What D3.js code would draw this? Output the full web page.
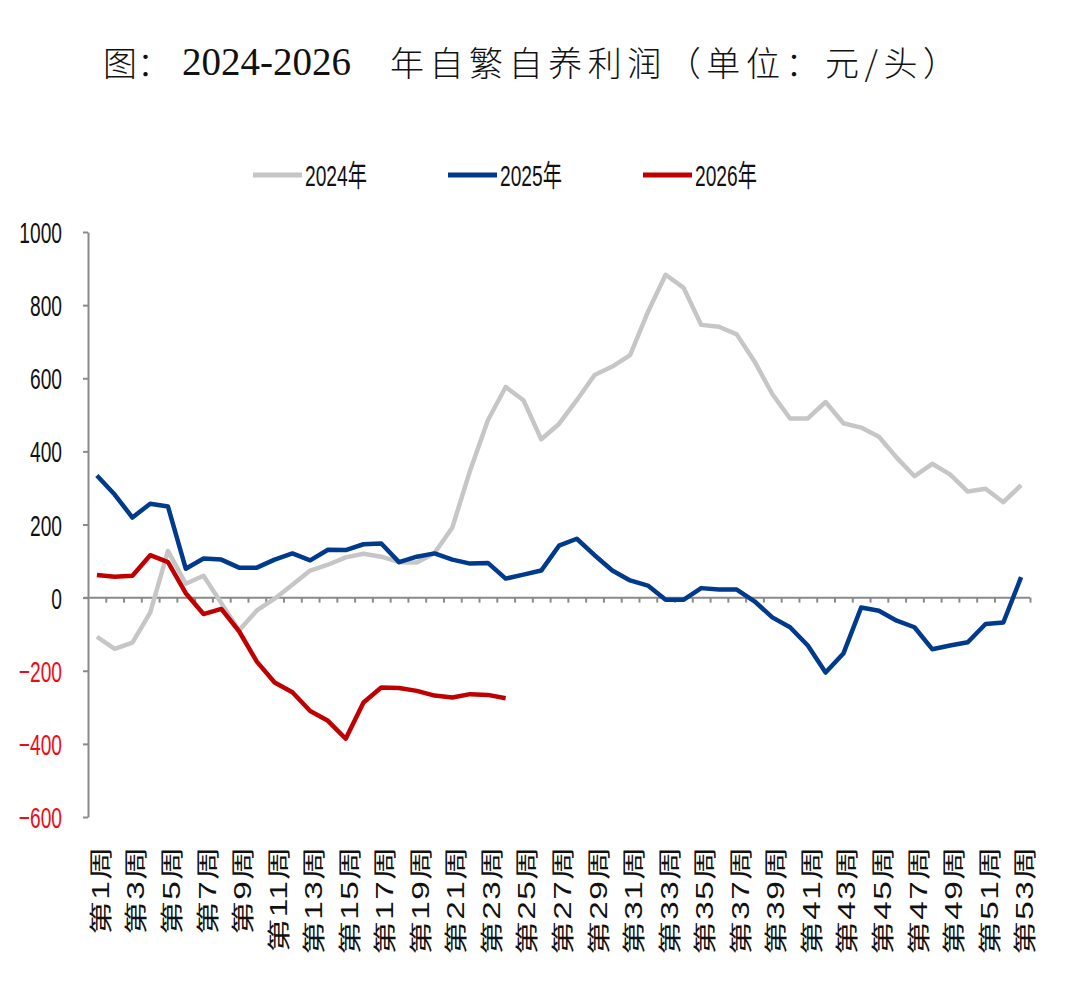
<!DOCTYPE html>
<html>
<head>
<meta charset="utf-8">
<script src="https://cdn.jsdelivr.net/npm/d3@7"></script>
<style>
  body { margin: 0; background: #fff; }
  svg { display: block; }
</style>
</head>
<body>
<script>
var W = 1072, H = 982;

// weeks 1..53
var weeks = d3.range(1, 54);
var weekLabels = weeks.filter(function(d) { return d % 2 === 1; });
var yTicks = [-600, -400, -200, 0, 200, 400, 600, 800, 1000];

var series = ["2024年", "2025年", "2026年"];
var colors = ["#c6c6c6", "#003a8c", "#c00000"];

var profit2024 = [-107, -140, -123, -41, 128, 38, 60, -15, -90, -35, -3, 35, 74, 90, 110, 120, 112, 97, 96, 122,
  192, 348, 485, 576, 540, 433, 475, 540, 609, 632, 663, 781, 883, 848, 746, 741, 720, 646, 557, 490,
  490, 535, 477, 465, 440, 383, 332, 366, 337, 290, 298, 261, 308];
var profit2025 = [334, 282, 219, 257, 249, 79, 107, 104, 82, 82, 104, 121, 102, 131, 130, 146, 148, 97, 112, 121,
  104, 93, 95, 52, 63, 74, 142, 161, 116, 74, 47, 33, -6, -6, 26, 22, 22, -10, -54, -81,
  -131, -205, -153, -27, -36, -63, -81, -141, -131, -122, -72, -68, 56];
var profit2026 = [62, 57, 60, 116, 97, 12, -45, -31, -92, -175, -232, -259, -310, -337, -386, -287, -246, -247, -255, -268,
  -273, -264, -266, -275];

var values = [profit2024, profit2025, profit2026];

var plotLeft = 88, plotRight = 1030, plotTop = 232, plotBottom = 817;

var svg = d3.select("body").append("svg")
    .attr("width", W)
    .attr("height", H);

var x = d3.scaleBand()
    .domain(weeks)
    .range([plotLeft, plotRight]);

var y = d3.scaleLinear()
    .domain([-600, 1000])
    .range([plotBottom, plotTop]);

var cx = function(d) { return x(d) + x.bandwidth() / 2; };

// Title
var title = svg.append("text")
    .attr("y", 61)
    .attr("dominant-baseline", "central")
    .style("fill", "#111");
title.append("tspan")
    .attr("x", 103)
    .style("font-family", "'Noto Sans CJK SC'")
    .style("font-size", "34px")
    .style("font-weight", "300")
    .text("图：");
title.append("tspan")
    .attr("x", 182)
    .style("font-family", "'Liberation Serif', serif")
    .style("font-size", "39px")
    .text("2024-2026");
var rest = title.append("tspan")
    .attr("x", 390)
    .style("font-family", "'Noto Sans CJK SC'")
    .style("font-size", "34px")
    .style("font-weight", "300")
    .text("年自繁自养利润（单位：元/头）");
var restLen = rest.node().getComputedTextLength();
var restChars = 15;
rest.style("letter-spacing", ((957 - 390 - restLen) / (restChars - 1)) + "px");

// Legend
var legendX = [253, 448, 643];
var legend = svg.append("g").selectAll("g")
    .data(series)
    .enter().append("g")
    .attr("transform", function(d, i) { return "translate(" + legendX[i] + ",175)"; });
legend.append("line")
    .attr("x1", 0).attr("x2", 49)
    .attr("stroke", function(d, i) { return colors[i]; })
    .attr("stroke-width", 5);
legend.append("text")
    .attr("transform", "translate(52,0) scale(0.64,1)")
    .attr("dy", "0.35em")
    .style("font-family", "'Liberation Sans', 'Noto Sans CJK SC'")
    .style("font-size", "30px")
    .style("fill", "#111")
    .text(function(d) { return d; });

// Y axis
var yAxis = d3.axisLeft(y)
    .tickValues(yTicks)
    .tickFormat(d3.format("d"))
    .tickSize(5)
    .tickSizeOuter(0);

var gy = svg.append("g")
    .attr("transform", "translate(" + plotLeft + ",0)")
    .call(yAxis);
gy.select(".domain").attr("stroke", "#8a8a8a").attr("stroke-width", 2);
gy.selectAll(".tick line").attr("stroke", "#8a8a8a").attr("stroke-width", 2);
gy.selectAll(".tick text")
    .attr("x", null)
    .attr("dy", "0.35em")
    .attr("transform", "translate(-26,0) scale(0.64,1)")
    .style("font-family", "'Liberation Sans', Arial, sans-serif")
    .style("font-size", "30px")
    .style("fill", function(d) { return d < 0 ? "#f00a14" : "#111"; });

// Zero line with week separators
var xb = d3.scaleLinear().domain([0, weeks.length]).range([plotLeft, plotRight]);
var gx = svg.append("g")
    .attr("transform", "translate(0," + y(0) + ")")
    .call(d3.axisBottom(xb).tickValues(weeks).tickSize(5).tickSizeOuter(0).tickFormat(""));
gx.select(".domain").attr("stroke", "#8a8a8a").attr("stroke-width", 2)
    .attr("d", "M" + (plotLeft - 4) + ",0H" + plotRight);
gx.selectAll(".tick line").attr("stroke", "#8a8a8a").attr("stroke-width", 2);

// Week labels
var gl = svg.append("g")
    .attr("transform", "translate(0,845)")
    .call(d3.axisBottom(x).tickValues(weekLabels).tickSize(0)
      .tickFormat(function(d) { return "第" + d + "周"; }));
gl.select(".domain").remove();
gl.selectAll(".tick text")
    .attr("y", null)
    .attr("dy", null)
    .attr("text-anchor", "end")
    .attr("dominant-baseline", "central")
    .attr("transform", "translate(4,0) rotate(-90) scale(1.45,1)")
    .style("font-family", "'Liberation Sans', 'Noto Sans CJK SC'")
    .style("font-size", "23px")
    .style("letter-spacing", "1px")
    .style("fill", "#111");

// Lines
var line = d3.line()
    .x(function(d, i) { return cx(weeks[i]); })
    .y(function(d) { return y(d); });

svg.append("g").selectAll("path")
    .data(values)
    .enter().append("path")
    .attr("d", line)
    .attr("fill", "none")
    .attr("stroke", function(d, i) { return colors[i]; })
    .attr("stroke-width", 4.5)
    .attr("stroke-linejoin", "round");
</script>
</body>
</html>
